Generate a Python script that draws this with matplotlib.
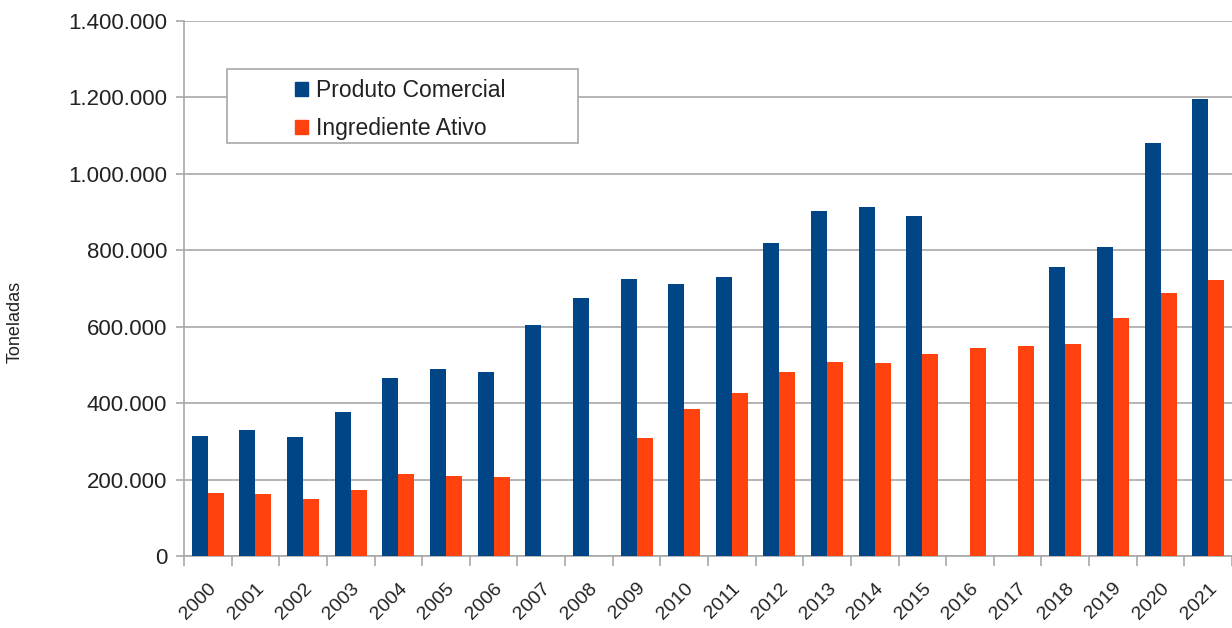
import numpy as np
import matplotlib
matplotlib.use("Agg")
from matplotlib import pyplot as plt
from matplotlib.patches import Patch, Rectangle
from matplotlib.ticker import FuncFormatter, MultipleLocator

# toneladas por ano
anos = [str(a) for a in range(2000, 2022)]
produto_comercial = [313000, 331000, 311000, 378000, 467000, 489000, 482000, 604000,
                     674000, 726000, 711000, 731000, 818000, 904000, 914000, 890000,
                     np.nan, np.nan, 757000, 809000, 1082000, 1195000]
ingrediente_ativo = [166000, 162000, 149000, 173000, 215000, 209000, 208000, np.nan,
                     np.nan, 308000, 384000, 426000, 482000, 508000, 506000, 529000,
                     545000, 550000, 555000, 622000, 689000, 722000]

AZUL = '#004586'
LARANJA = '#ff420e'
CINZA = '#a8a8a8'
TEXTO = '#222222'

plt.rcParams['font.family'] = ['Liberation Sans', 'DejaVu Sans']

fig = plt.figure(figsize=(12.32, 6.28), dpi=100)
ax = fig.add_axes([184 / 1232, 72 / 628, (1232 - 184) / 1232, 535 / 628])

x = np.arange(len(anos))
w = 0.335
ax.bar(x - w / 2, produto_comercial, width=w, color=AZUL, zorder=3)
ax.bar(x + w / 2, ingrediente_ativo, width=w, color=LARANJA, zorder=3)

ax.set_ylim(0, 1400000)
ax.set_xlim(-0.5, 21.4)
ax.yaxis.set_major_locator(MultipleLocator(200000))
ax.yaxis.set_major_formatter(FuncFormatter(lambda v, p: f'{int(v):,}'.replace(',', '.')))
ax.grid(axis='y', color=CINZA, linewidth=1.2, zorder=0)

# ticks do eixo x nos limites das categorias, rótulos no centro
ax.set_xticks(x)
ax.set_xticklabels(anos, rotation=45, ha='right', va='top', rotation_mode='anchor')
ax.set_xticks(np.arange(-0.5, 22, 1), minor=True)
ax.tick_params(axis='x', which='major', length=0, pad=17, labelsize=14, colors=TEXTO)
ax.tick_params(axis='x', which='minor', length=7, color=CINZA, width=1.2)
ax.tick_params(axis='y', length=6, color=CINZA, width=1.2, labelsize=16,
               labelcolor=TEXTO, pad=6)

for s in ['top', 'right']:
    ax.spines[s].set_visible(False)
for s in ['left', 'bottom']:
    ax.spines[s].set_color(CINZA)
    ax.spines[s].set_linewidth(1.2)

fig.text(15 / 1232, 1 - 322 / 628, 'Toneladas', rotation=90, ha='center', va='center',
         fontsize=13, color=TEXTO)

# caixa da legenda
fig.patches.append(Rectangle((227 / 1232, 1 - 143 / 628), 351 / 1232, 74 / 628,
                             transform=fig.transFigure, facecolor='white',
                             edgecolor=CINZA, linewidth=1.2, zorder=5))
handles = [Patch(color=AZUL, label='Produto Comercial'),
           Patch(color=LARANJA, label='Ingrediente Ativo')]
leg = fig.legend(handles=handles, loc='upper left',
                 bbox_to_anchor=(277 / 1232, 1 - 61 / 628), frameon=False,
                 fontsize=16.5, handlelength=0.57, handleheight=0.57,
                 handletextpad=0.35, labelspacing=0.65, borderpad=0.3)
leg.set_zorder(6)
for t in leg.get_texts():
    t.set_color(TEXTO)

fig.savefig('out.png', dpi=100)
